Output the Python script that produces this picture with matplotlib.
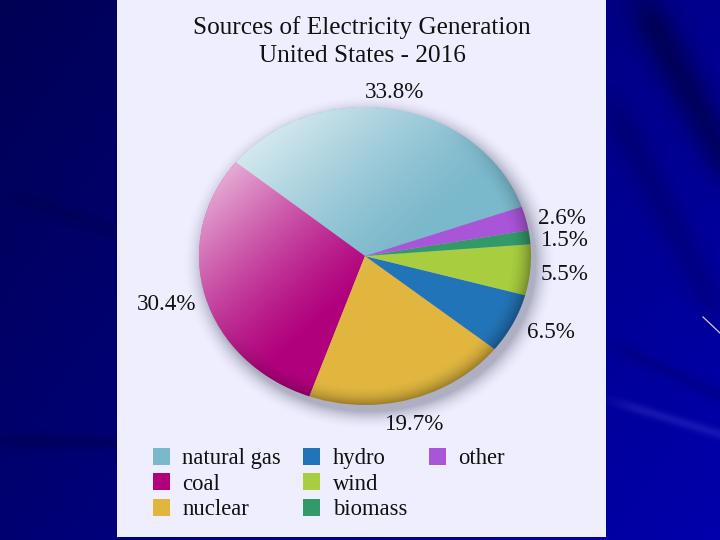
import numpy as np
from matplotlib import pyplot as plt
from matplotlib.patches import Ellipse, Patch, Rectangle

title = 'Sources of Electricity Generation\nUnited States - 2016'
sources = ['natural gas', 'coal', 'nuclear', 'hydro', 'wind', 'biomass', 'other']
shares = [33.8, 30.4, 19.7, 6.5, 5.5, 1.5, 2.6]
colors = ['#7ab8cb', '#b0007c', '#e0b63f', '#2274b8', '#a8cd3f', '#329a68', '#a855d8']

W, H = 720, 540
plt.rcParams['font.family'] = ['Liberation Serif', 'DejaVu Serif']

fig = plt.figure(figsize=(W / 100, H / 100), dpi=100)

# slide background in pixel coords
bg = fig.add_axes([0, 0, 1, 1])
bg.set_xlim(0, W)
bg.set_ylim(H, 0)
bg.axis('off')

yy, xx = np.mgrid[0:H, 0:W]
blue = 84 + 58 * np.clip(xx / 720, 0, 1) + 30 * np.clip(yy / 540, 0, 1)
red = np.zeros_like(blue, dtype='float')


def streak(x0, y0, x1, y1, width, amount):
    # soft band along a line with faded ends, amount is added to the blue channel
    dx, dy = x1 - x0, y1 - y0
    dist = np.abs((xx - x0) * dy - (yy - y0) * dx) / np.hypot(dx, dy)
    t = ((xx - x0) * dx + (yy - y0) * dy) / (dx * dx + dy * dy)
    return amount * np.exp(-(dist / width) ** 2) * np.clip(np.minimum(t, 1.3 - t) * 4, 0, 1)


blue += streak(630, -20, 720, 150, 20, -50)
blue += streak(600, 80, 700, 280, 16, -22)
blue += streak(600, 340, 720, 395, 7, -18)
blue += streak(0, 190, 125, 235, 8, -10)
blue += streak(-20, 440, 140, 443, 8, -18)
blue += streak(600, 397, 740, 440, 5, 16)
red += streak(600, 397, 740, 440, 5, 22)
rgb = np.dstack([red, red, blue]) / 255
bg.imshow(np.clip(rgb, 0, 1), extent=(0, W, H, 0), aspect='auto', zorder=0)
bg.plot([703, 720], [317, 333], color='#d8c8f0', lw=0.9, zorder=1)
bg.add_patch(Rectangle((117, 0), 489, 537, color='#eeeeff', lw=0, zorder=2))

# soft shadow of the pie, a bit down and right
cx, cy, rx, ry = 365, 256, 166, 149
s = np.hypot((xx - cx - 4) / rx, (yy - cy - 6) / ry)
shadow = np.zeros((H, W, 4))
shadow[..., 0:3] = [0.35, 0.35, 0.45]
shadow[..., 3] = 0.42 * np.clip((1.13 - s) / 0.13, 0, 1) ** 2
shadow[:, :117, 3] = 0
shadow[:, 606:, 3] = 0
bg.imshow(shadow, extent=(0, W, H, 0), aspect='auto', zorder=3)
bg.set_xlim(0, W)
bg.set_ylim(H, 0)

# pie stretched to an ellipse
ax = fig.add_axes([(cx - rx) / W, 1 - (cy + ry) / H, 2 * rx / W, 2 * ry / H])
ax.patch.set_alpha(0)
wedges, _ = ax.pie(shares, colors=colors, startangle=90 - 70.7, radius=1,
                   wedgeprops={'linewidth': 0})
ax.set_aspect('auto')
ax.set_xlim(-1, 1)
ax.set_ylim(-1, 1)

# light from the upper left, dark rim at the lower right
v, u = np.mgrid[1:-1:400j, -1:1:400j]
r = np.hypot(u, v)
p = (u - v) / np.sqrt(2)
light = 0.68 * (np.clip(0.15 - p, 0, None) / 1.15) ** 1.3
dark = 0.3 * np.clip((r - 0.87) / 0.13, 0, 1) ** 2 * np.clip(0.35 + 0.65 * u - 0.75 * v, 0, 1)
alpha = light + dark
shade = np.zeros((400, 400, 4))
shade[..., 0:3] = (light / np.maximum(alpha, 1e-6))[..., None]
shade[..., 3] = alpha
im = ax.imshow(shade, extent=(-1, 1, -1, 1), aspect='auto', zorder=5)
im.set_clip_path(Ellipse((0, 0), 2, 2, transform=ax.transData))
ax.set_xlim(-1, 1)
ax.set_ylim(-1, 1)

# text
bg.text(362, 41.5, title, ha='center', va='center', fontsize=18.2, color='#111111',
        linespacing=1.3, zorder=6)

label_x = [394, 167, 415, 551, 565, 565, 562]
label_y = [93, 305, 425, 332, 275, 240, 219]
for share, x, y in zip(shares, label_x, label_y):
    bg.text(x, y, f'{share}%', ha='center', va='center', fontsize=16.6,
            color='#111111', zorder=6)

# two empty entries so the last column only holds "other"
handles = [Patch(color=c, lw=0) for c in colors] + [Patch(alpha=0), Patch(alpha=0)]
leg = fig.legend(handles, sources + ['', ''], ncol=3, loc='upper left',
                 bbox_to_anchor=(146 / W, 1 - 441 / H), frameon=False, fontsize=16.3,
                 handlelength=0.76, handleheight=0.76, handletextpad=0.55,
                 columnspacing=0.96, labelspacing=0.19, borderpad=0.3, borderaxespad=0,
                 labelcolor='#111111')

fig.savefig('out.png', dpi=100)
